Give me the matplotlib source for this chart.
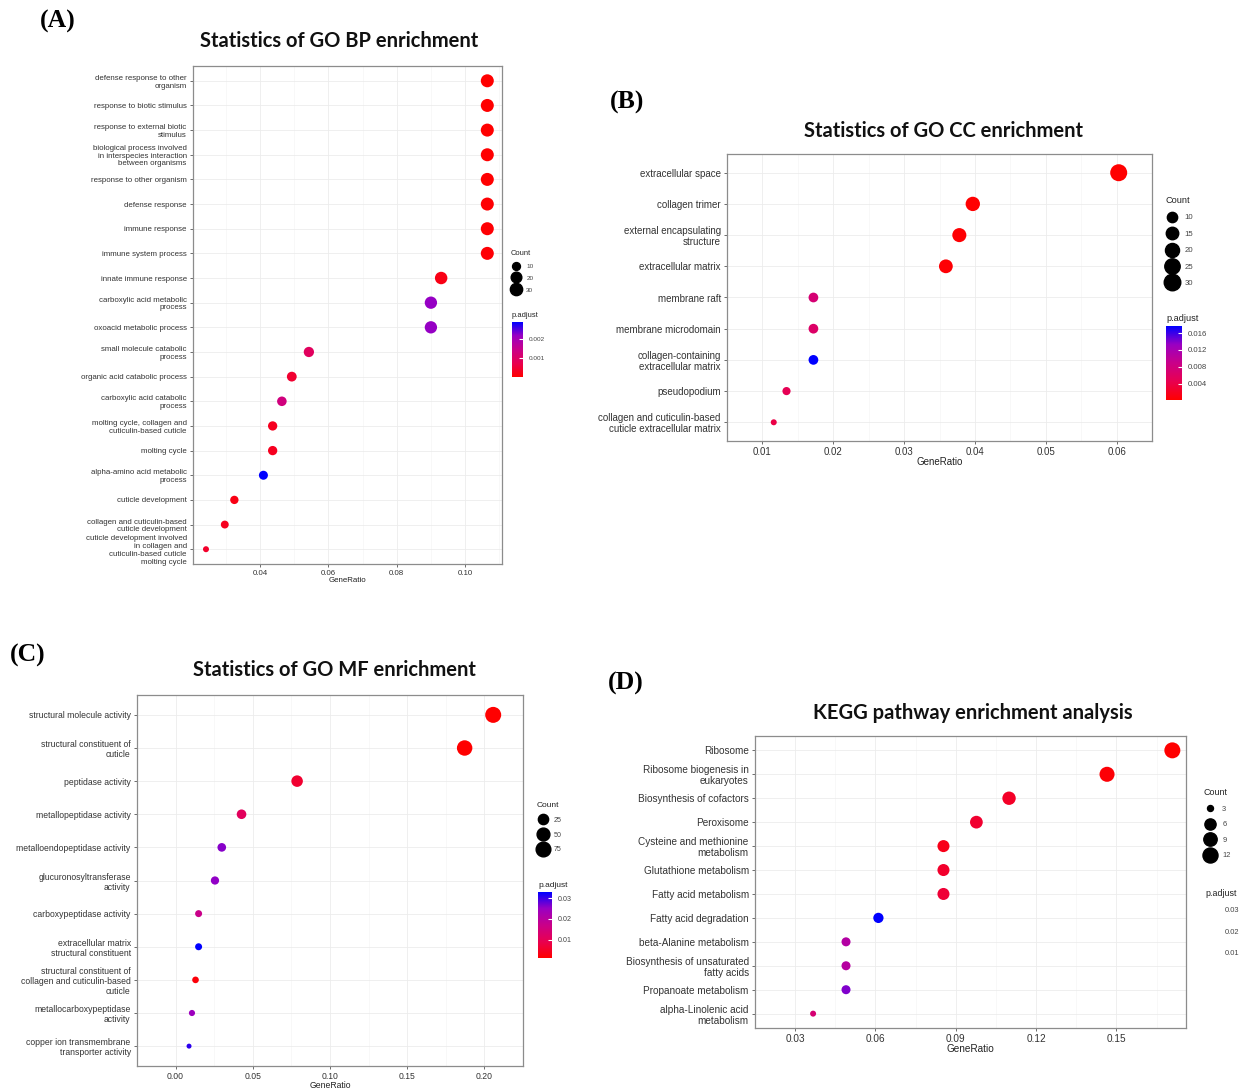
import numpy as np
import matplotlib
matplotlib.use("Agg")
import matplotlib.pyplot as plt
from matplotlib.colors import LinearSegmentedColormap, Normalize
from matplotlib.cm import ScalarMappable
from matplotlib.lines import Line2D

# ---------------- data ----------------
bp_terms = ["defense response to other\norganism", "response to biotic stimulus",
            "response to external biotic\nstimulus",
            "biological process involved\nin interspecies interaction\nbetween organisms",
            "response to other organism", "defense response", "immune response",
            "immune system process", "innate immune response",
            "carboxylic acid metabolic\nprocess", "oxoacid metabolic process",
            "small molecule catabolic\nprocess", "organic acid catabolic process",
            "carboxylic acid catabolic\nprocess", "molting cycle, collagen and\ncuticulin-based cuticle",
            "molting cycle", "alpha-amino acid metabolic\nprocess", "cuticle development",
            "collagen and cuticulin-based\ncuticle development",
            "cuticle development involved\nin collagen and\ncuticulin-based cuticle\nmolting cycle"]
bp_ratio = [0.1065, 0.1065, 0.1065, 0.1065, 0.1065, 0.1065, 0.1065, 0.1065, 0.0930, 0.0900,
            0.0900, 0.0543, 0.0493, 0.0464, 0.0437, 0.0437, 0.0410, 0.0325, 0.0297, 0.0242]
bp_count = [35, 35, 35, 35, 35, 35, 35, 35, 31, 30, 30, 18, 16, 15, 14, 14, 13, 11, 10, 8]
bp_padj = [1e-5, 2e-5, 2e-5, 3e-5, 3e-5, 4e-5, 5e-5, 6e-5, 2e-4, 2.2e-3, 2.2e-3, 9e-4, 4.5e-4,
           1.3e-3, 3e-4, 3e-4, 2.9e-3, 2e-4, 3e-4, 4e-4]

cc_terms = ["extracellular space", "collagen trimer", "external encapsulating\nstructure",
            "extracellular matrix", "membrane raft", "membrane microdomain",
            "collagen-containing\nextracellular matrix", "pseudopodium",
            "collagen and cuticulin-based\ncuticle extracellular matrix"]
cc_ratio = [0.0603, 0.0397, 0.0378, 0.0359, 0.0172, 0.0172, 0.0172, 0.0134, 0.0116]
cc_count = [32, 21, 20, 19, 9, 9, 9, 7, 6]
cc_padj = [0.0001, 0.0002, 0.0003, 0.0004, 0.0072, 0.0062, 0.0177, 0.0048, 0.0040]

mf_terms = ["structural molecule activity", "structural constituent of\ncuticle",
            "peptidase activity", "metallopeptidase activity", "metalloendopeptidase activity",
            "glucuronosyltransferase\nactivity", "carboxypeptidase activity",
            "extracellular matrix\nstructural constituent",
            "structural constituent of\ncollagen and cuticulin-based\ncuticle",
            "metallocarboxypeptidase\nactivity", "copper ion transmembrane\ntransporter activity"]
mf_ratio = [0.2057, 0.1872, 0.0787, 0.0427, 0.0299, 0.0255, 0.0149, 0.0149, 0.0129, 0.0106, 0.0087]
mf_count = [95, 86, 36, 20, 14, 12, 7, 7, 6, 5, 4]
mf_padj = [0.0011, 0.0012, 0.0059, 0.0107, 0.026, 0.0255, 0.017, 0.033, 0.002, 0.0245, 0.0307]

kegg_terms = ["Ribosome", "Ribosome biogenesis in\neukaryotes", "Biosynthesis of cofactors",
              "Peroxisome", "Cysteine and methionine\nmetabolism", "Glutathione metabolism",
              "Fatty acid metabolism", "Fatty acid degradation", "beta-Alanine metabolism",
              "Biosynthesis of unsaturated\nfatty acids", "Propanoate metabolism",
              "alpha-Linolenic acid\nmetabolism"]
kegg_ratio = [0.1709, 0.1465, 0.1099, 0.0977, 0.0854, 0.0854, 0.0854, 0.0611, 0.049, 0.049, 0.049, 0.0367]
kegg_count = [14, 12, 9, 8, 7, 7, 7, 5, 4, 4, 4, 3]
kegg_padj = [0.0003, 0.001, 0.0044, 0.0054, 0.003, 0.005, 0.006, 0.034, 0.021, 0.0205, 0.027, 0.0138]

# ---------------- setup ----------------
W, H = 1240, 1090
fig = plt.figure(figsize=(W / 100, H / 100), dpi=100)
plt.rcParams['font.family'] = ['Liberation Sans', 'DejaVu Sans']

# ggplot-like red -> blue gradient (Lab interpolation)
cmap = LinearSegmentedColormap.from_list("padj", ["#FF0000", "#E80050", "#C90089", "#9A00C2", "#0000FF"])


def box(x0, y0, x1, y1):
    return [x0 / W, 1 - y1 / H, (x1 - x0) / W, (y1 - y0) / H]


def diam(c, counts, dmin, dmax):
    c = np.asarray(c, dtype=float)
    lo, hi = min(counts), max(counts)
    return dmin + (dmax - dmin) * np.sqrt(np.clip((c - lo) / (hi - lo), 0, None))


def to_s(d_px):
    return (np.asarray(d_px) * 0.72) ** 2


def panel(rect, terms, ratio, count, padj, xlim, xticks, xfmt, dsize, fs):
    ax = fig.add_axes(box(*rect))
    n = len(terms)
    y = np.arange(n)[::-1]
    norm = Normalize(min(padj), max(padj))
    ax.scatter(ratio, y, s=to_s(diam(count, count, *dsize)), c=padj, cmap=cmap, norm=norm,
               linewidths=0, zorder=3)
    ax.set_xlim(*xlim)
    ax.set_ylim(-0.6, n - 0.4)
    ax.set_yticks(y)
    ax.set_yticklabels(terms, fontsize=fs, color="#333333", linespacing=1.15)
    for t in ax.get_yticklabels():
        t.set_multialignment("right")
    ax.set_xticks(xticks)
    ax.set_xticklabels([xfmt.format(v) for v in xticks], fontsize=fs, color="#333333")
    step = xticks[1] - xticks[0]
    minor = [xticks[0] - step / 2] + [v + step / 2 for v in xticks]
    ax.set_xticks(minor, minor=True)
    ax.tick_params(which="minor", length=0)
    ax.tick_params(which="major", length=2.5, width=0.6, color="#555555", pad=2)
    ax.grid(True, which="major", color="#ECECEC", lw=0.6)
    ax.grid(True, which="minor", axis="x", color="#F5F5F5", lw=0.5)
    ax.set_axisbelow(True)
    for sp in ax.spines.values():
        sp.set_color("#8C8C8C")
        sp.set_linewidth(0.9)
    ax.set_xlabel("GeneRatio", fontsize=fs, color="#222222", labelpad=0)
    return ax, norm


def count_legend(x, y, values, counts, dsize, fs, spacing):
    handles = [Line2D([], [], marker="o", ls="", color="black", markersize=d * 0.72)
               for d in diam(values, counts, *dsize)]
    leg = fig.legend(handles, [str(v) for v in values], title="Count", loc="upper left",
                     bbox_to_anchor=(x / W, 1 - y / H), bbox_transform=fig.transFigure,
                     frameon=False, fontsize=fs * 0.85, title_fontsize=fs,
                     handletextpad=0.8, labelspacing=spacing, borderpad=0, borderaxespad=0,
                     handlelength=1.6, alignment="left")
    for t in leg.get_texts():
        t.set_color("#444444")
    leg.get_title().set_color("#222222")


def color_legend(rect, norm, ticks, fmt, fs, visible=True):
    cax = fig.add_axes(box(*rect))
    cb = fig.colorbar(ScalarMappable(norm=norm, cmap=cmap), cax=cax)
    cb.set_ticks(ticks)
    cb.set_ticklabels([fmt.format(t) for t in ticks])
    cb.outline.set_visible(False)
    cax.tick_params(labelsize=fs * 0.85, length=3, width=0.8, color="white",
                    direction="in", labelcolor="#444444", pad=4)
    if not visible:
        cb.solids.set_alpha(0)
        cax.tick_params(length=0)
    fig.text(rect[0] / W, 1 - (rect[1] - 3) / H, "p.adjust", fontsize=fs, color="#222222",
             ha="left", va="bottom")


def heading(x, y, text, size=14.5):
    fig.text(x / W, 1 - y / H, text, fontsize=size, fontweight="bold", family="Lato",
             ha="center", va="center", color="#111111")


def letter(x, y, text):
    fig.text(x / W, 1 - y / H, text, fontsize=18.5, fontweight="bold", family="Liberation Serif",
             ha="left", va="center")


# ---------------- panel A ----------------
axA, normA = panel((193, 66, 502, 564), bp_terms, bp_ratio, bp_count, bp_padj,
                   (0.0204, 0.1108), [0.04, 0.06, 0.08, 0.10], "{:.2f}", (6, 13), 5.7)
count_legend(511, 250, [10, 20, 30], bp_count, (6, 13), 5.4, 1.0)
color_legend((512, 322, 523, 377), normA, [0.001, 0.002], "{:.3f}", 5.4)
heading(339, 41, "Statistics of GO BP enrichment")
letter(40, 21, "(A)")

# ---------------- panel B ----------------
axB, normB = panel((727, 154, 1152, 441), cc_terms, cc_ratio, cc_count, cc_padj,
                   (0.0091, 0.0629), [0.01, 0.02, 0.03, 0.04, 0.05, 0.06], "{:.2f}", (6, 17), 7.0)
count_legend(1166, 196, [10, 15, 20, 25, 30], cc_count, (6, 17), 6.6, 1.15)
color_legend((1166, 326, 1182, 400), normB, [0.004, 0.008, 0.012, 0.016], "{:.3f}", 6.6)
heading(943, 131, "Statistics of GO CC enrichment")
letter(610, 102, "(B)")

# ---------------- panel C ----------------
axC, normC = panel((137, 695, 523, 1066), mf_terms, mf_ratio, mf_count, mf_padj,
                   (-0.0013, 0.216), [0.00, 0.05, 0.10, 0.15, 0.20], "{:.2f}", (5, 16), 6.2)
count_legend(537, 802, [25, 50, 75], mf_count, (5, 16), 6.0, 1.1)
color_legend((538, 892, 552, 958), normC, [0.01, 0.02, 0.03], "{:.2f}", 6.0)
heading(334, 670, "Statistics of GO MF enrichment")
letter(10, 655, "(C)")

# ---------------- panel D ----------------
axD, normD = panel((755, 736, 1186, 1028), kegg_terms, kegg_ratio, kegg_count, kegg_padj,
                   (0.0297, 0.176), [0.03, 0.06, 0.09, 0.12, 0.15], "{:.2f}", (6, 16), 7.2)
count_legend(1204, 788, [3, 6, 9, 12], kegg_count, (6, 16), 6.4, 1.1)
color_legend((1205, 901, 1219, 974), normD, [0.01, 0.02, 0.03], "{:.2f}", 6.4, visible=False)
heading(973, 713, "KEGG pathway enrichment analysis")
letter(608, 683, "(D)")

fig.savefig("out.png", dpi=100, facecolor="white")
